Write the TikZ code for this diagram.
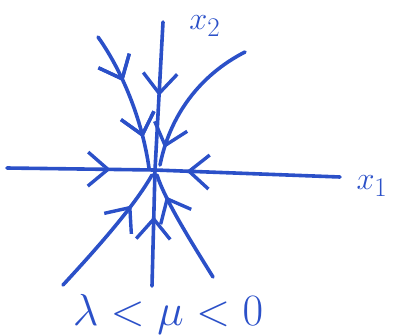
\documentclass[tikz,border=0pt]{standalone}
\usepackage{amsmath,amssymb}
\usepackage{xcolor}
\usepackage{tikz}
\usetikzlibrary{arrows.meta,calc,decorations.markings}
\definecolor{penblue}{HTML}{2B50C8}
\tikzset{
  flow/.style={penblue, line width=3.6pt, line cap=round},
  barb/.style={postaction={decorate}, decoration={markings, mark=at position #1 with {\arrow[penblue, line width=3.4pt]{Straight Barb[length=20pt,width=34pt]}}}},
  axislabel/.style={penblue, font=\Huge, scale=1.3, inner sep=0pt}
}
\begin{document}
\begin{tikzpicture}[x=1pt, y=-1pt]
  \useasboundingbox (0,0) rectangle (393,335);
  \coordinate (O) at (155,170);
  % axes
  \draw[flow, barb=0.7] (7,168) -- (O);
  \draw[flow, barb=0.83] (340,177) -- (O);
  \draw[flow, barb=0.5] (163,22) -- (O);
  \draw[flow, barb=0.6] (152,286) -- (O);
  \node[axislabel] (xone) at (372,186) {$x_1$};
  \node[axislabel] (xtwo) at (205,26) {$x_2$};
  % trajectories
  \draw[flow, barb=0.36, barb=0.78] (98,37) .. controls (125,75) and (143,125) .. (149,168);
  \draw[flow, barb=0.88] (245,52) .. controls (200,75) and (170,115) .. (160,165);
  \draw[flow, barb=0.74] (63,285) .. controls (100,245) and (135,205) .. (152,175);
  \draw[flow, barb=0.8] (213,277) .. controls (190,240) and (165,200) .. (157,175);
  \node[penblue, scale=1.8, font=\Huge] (eig) at (168,314) {$\lambda<\mu<0$};
\end{tikzpicture}
\end{document}
